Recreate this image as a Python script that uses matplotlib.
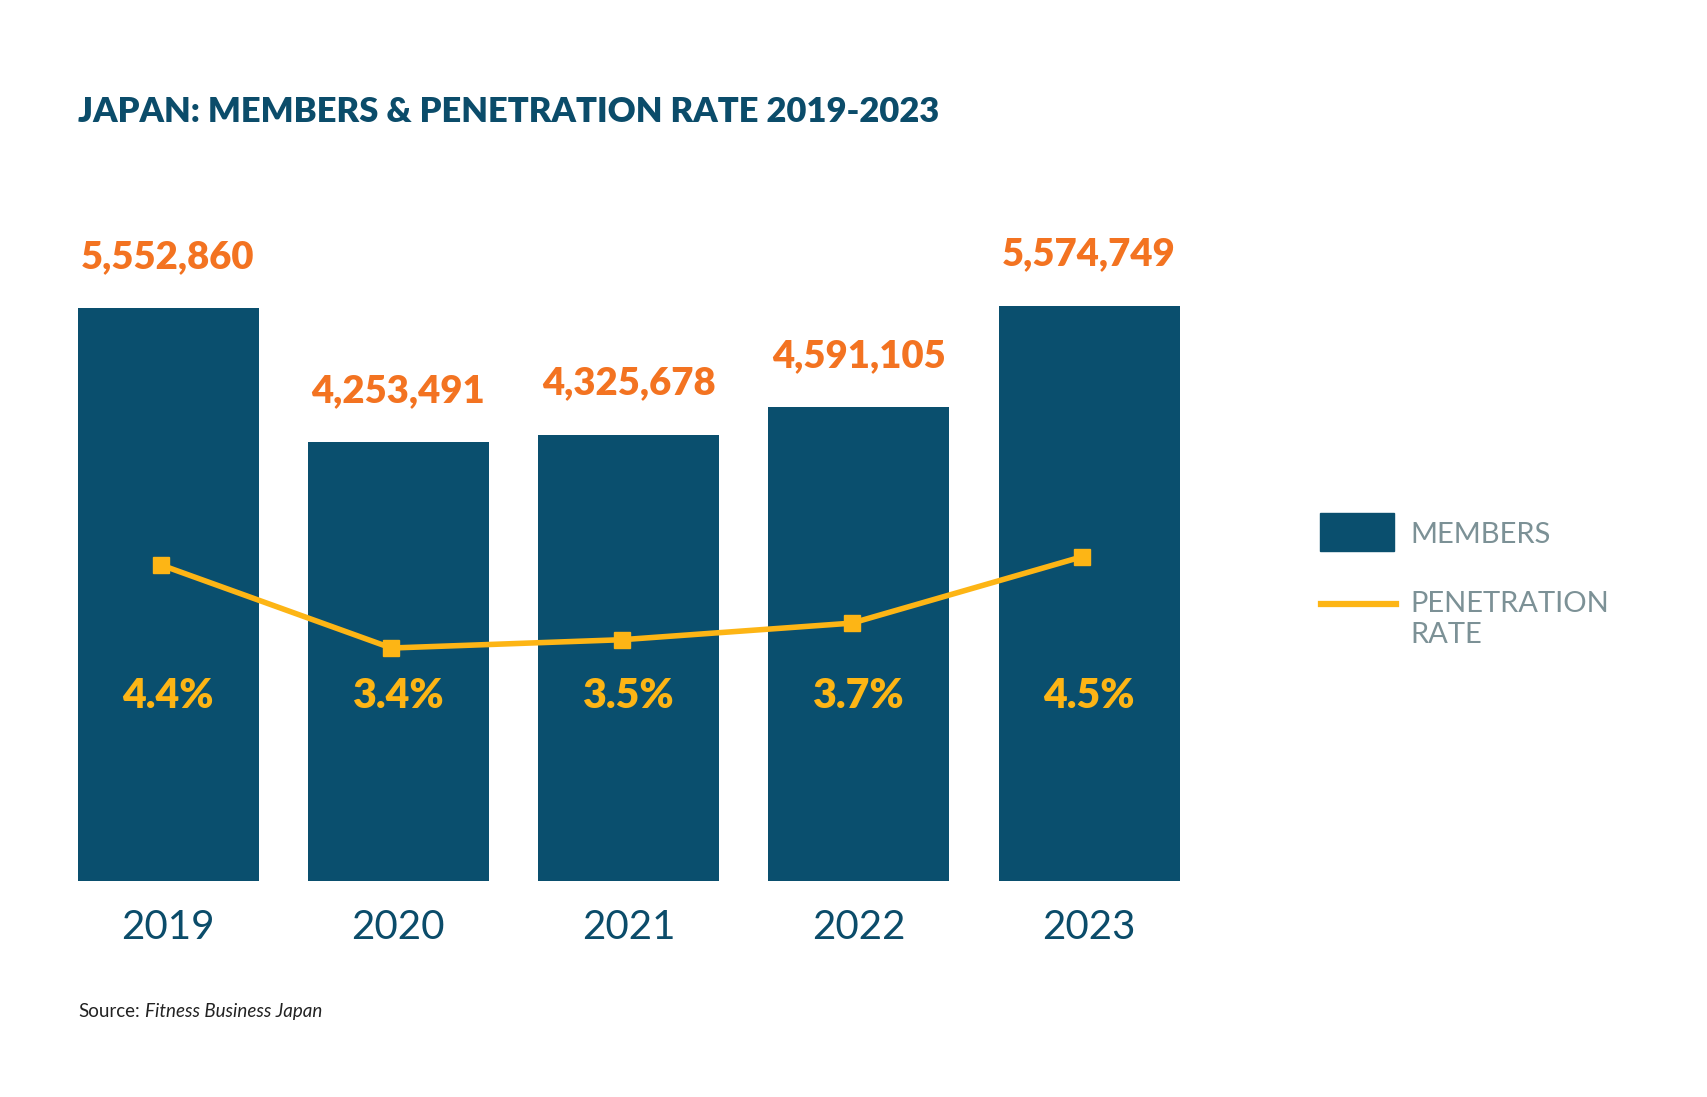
import matplotlib
matplotlib.use("Agg")
import matplotlib.pyplot as plt
import matplotlib.transforms as mtransforms
from matplotlib.patches import Rectangle
from matplotlib.lines import Line2D
import numpy as np

years = ["2019", "2020", "2021", "2022", "2023"]
members = [5552860, 4253491, 4325678, 4591105, 5574749]
penetration = [4.4, 3.4, 3.5, 3.7, 4.5]

BAR = "#0a4f6e"
NAVY = "#0b4c6a"
ORANGE = "#f37321"
YELLOW = "#fdb515"
GREY = "#7c9196"

plt.rcParams["font.family"] = ["Lato", "DejaVu Sans"]

W, H = 1707, 1097
fig = plt.figure(figsize=(W / 100, H / 100), dpi=100)

def fx(px):
    return px / W

def fy(py):
    return 1 - py / H

ax = fig.add_axes([fx(78), fy(881), fx(1180) - fx(78), fy(200) - fy(881)])
x = np.arange(len(years))
ax.bar(x, members, width=0.786, color=BAR)
ax.set_xlim(-0.391, 4.395)
ax.set_ylim(0, 6.6e6)
for s in ax.spines.values():
    s.set_visible(False)
ax.set_yticks([])
ax.set_xticks(x)
ax.set_xticklabels(years, fontsize=29, color=NAVY)
ax.tick_params(axis="x", length=0, pad=20)

for xi, m in zip(x, members):
    ax.annotate(f"{m:,}", (xi, m), xytext=(0, 29), textcoords="offset points",
                ha="center", va="baseline", fontsize=27.5, fontweight="heavy",
                color=ORANGE)

ax2 = ax.twinx()
ax2.set_ylim(0.593, 8.798)
ax2.set_yticks([])
for s in ax2.spines.values():
    s.set_visible(False)
ax2.plot(x - 0.03, penetration, color=YELLOW, lw=4, marker="s", markersize=11,
         solid_joinstyle="miter")

trans = mtransforms.blended_transform_factory(ax.transData, ax.transAxes)
for xi, p in zip(x, penetration):
    ax.text(xi, 0.254, f"{p}%", transform=trans, ha="center", va="baseline",
            fontsize=29.5, fontweight="heavy", color=YELLOW)

fig.text(fx(78), fy(122), "JAPAN: MEMBERS & PENETRATION RATE 2019-2023",
         fontsize=24.8, fontweight="heavy", color=NAVY, va="baseline")

# legend
fig.add_artist(Rectangle((fx(1320), fy(551)), fx(1394) - fx(1320), fy(513) - fy(551),
                         transform=fig.transFigure, color=BAR))
fig.add_artist(Line2D([fx(1321), fx(1396)], [fy(604), fy(604)],
                      transform=fig.transFigure, color=YELLOW, lw=4.5))
fig.text(fx(1410), fy(543), "MEMBERS", fontsize=21, color=GREY, va="baseline")
fig.text(fx(1410), fy(612), "PENETRATION", fontsize=21, color=GREY, va="baseline")
fig.text(fx(1410), fy(643), "RATE", fontsize=21, color=GREY, va="baseline")

src = fig.text(fx(78), fy(1017), "Source:", fontsize=13.5, color="#222222",
               va="baseline")
bb = src.get_window_extent(renderer=fig.canvas.get_renderer())
fig.text(fx(bb.x1 + 5), fy(1017), "Fitness Business Japan", fontsize=13.5,
         color="#222222", va="baseline", style="italic")

fig.savefig("out.png", dpi=100)
